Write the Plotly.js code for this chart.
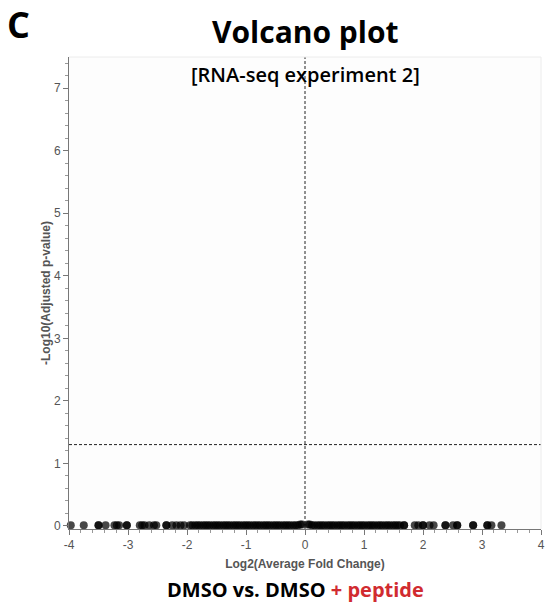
<!DOCTYPE html>
<html>
<head>
<meta charset="utf-8">
<script src="https://cdn.plot.ly/plotly-3.0.1.min.js"></script>
<style>html,body{margin:0;padding:0;background:#fff;}#chart{width:548px;height:613px;}</style>
</head>
<body>
<div id="chart"></div>
<script>
// Log2 fold change of each gene
const log2FC = [
  -3.97, -3.75, -3.50, -3.50, -3.38, -3.23, -3.19, -3.15, -3.02, -3.02,
  -2.80, -2.76, -2.72, -2.64, -2.56, -2.52, -2.35, -2.35, -2.25, -2.18, -2.11, -2.05,
  -1.95, -1.91, -1.86, -1.82, -1.78, -1.73, -1.69, -1.65, -1.61, -1.56, -1.52, -1.48,
  -1.44, -1.39, -1.35, -1.31, -1.27, -1.22, -1.18, -1.14, -1.10, -1.05, -1.01, -0.97,
  -0.93, -0.88, -0.84, -0.80, -0.76, -0.71, -0.67, -0.63, -0.59, -0.54, -0.50, -0.46,
  -0.42, -0.37, -0.33, -0.29, -0.25, -0.20, -0.16, -0.12, -0.08, -0.05,
  0.05, 0.08, 0.12, 0.16, 0.21, 0.25, 0.29, 0.33, 0.38, 0.42, 0.46, 0.50, 0.55,
  0.59, 0.63, 0.67, 0.72, 0.76, 0.80, 0.84, 0.89, 0.93, 0.97, 1.01, 1.06, 1.10,
  1.14, 1.18, 1.23, 1.27, 1.31, 1.36, 1.40, 1.44, 1.49, 1.53, 1.57, 1.61, 1.68, 1.68,
  1.86, 1.92, 2.00, 2.00, 2.11, 2.18, 2.38, 2.38, 2.51, 2.58, 2.58, 2.85, 2.85,
  3.09, 3.09, 3.16, 3.33
];
// -log10(adjusted p-value) of each gene (all close to zero)
const negLog10P = [
  0.01, 0.01, 0.01, 0.01, 0.01, 0.01, 0.01, 0.01, 0.01, 0.01,
  0.01, 0.01, 0.01, 0.01, 0.01, 0.01, 0.01, 0.01, 0.01, 0.01, 0.01, 0.01,
  0.01, 0.01, 0.01, 0.01, 0.01, 0.01, 0.01, 0.01, 0.01, 0.01, 0.01, 0.01,
  0.01, 0.01, 0.01, 0.01, 0.01, 0.01, 0.01, 0.01, 0.01, 0.01, 0.01, 0.01,
  0.01, 0.01, 0.01, 0.01, 0.01, 0.01, 0.01, 0.01, 0.01, 0.01, 0.01, 0.01,
  0.01, 0.01, 0.01, 0.01, 0.01, 0.01, 0.01, 0.01, 0.02, 0.02,
  0.02, 0.02, 0.01, 0.01, 0.01, 0.01, 0.01, 0.01, 0.01, 0.01, 0.01, 0.01, 0.01,
  0.01, 0.01, 0.01, 0.01, 0.01, 0.01, 0.01, 0.01, 0.01, 0.01, 0.01, 0.01, 0.01,
  0.01, 0.01, 0.01, 0.01, 0.01, 0.01, 0.01, 0.01, 0.01, 0.01, 0.01, 0.01, 0.01, 0.01,
  0.01, 0.01, 0.01, 0.01, 0.01, 0.01, 0.01, 0.01, 0.01, 0.01, 0.01, 0.01, 0.01,
  0.01, 0.01, 0.01, 0.01
];
const xTicks = [-4, -3, -2, -1, 0, 1, 2, 3, 4];
const yTicks = [0, 1, 2, 3, 4, 5, 6, 7];
const pThreshold = 1.3; // -log10(0.05)

const sans = 'Liberation Sans, Arial, sans-serif';
const tickFont = {family: sans, size: 12, color: '#555555'};
const titleFont = {family: sans, size: 12, color: '#555555', weight: 'bold'};
const headFont = 'Open Sans, sans-serif';

const trace = {
  type: 'scatter', mode: 'markers',
  x: log2FC, y: negLog10P,
  marker: {size: 8, color: 'rgba(0,0,0,0.72)', line: {width: 0}},
  hoverinfo: 'x+y', showlegend: false, cliponaxis: false
};

const layout = {
  width: 548, height: 613,
  margin: {l: 69, r: 7, t: 57, b: 84},
  paper_bgcolor: '#ffffff', plot_bgcolor: '#fdfdfd',
  font: {family: sans, color: '#555555'},
  showlegend: false,
  xaxis: {
    range: [-4, 4], tickvals: xTicks, ticktext: xTicks.map(String),
    ticks: 'outside', ticklen: 5, tickcolor: '#777', tickwidth: 1,
    minor: {ticks: 'outside', ticklen: 3, dtick: 0.2, tickcolor: '#999'},
    showline: true, linecolor: '#777', linewidth: 1, showgrid: false, zeroline: false,
    tickfont: tickFont,
    title: {text: 'Log2(Average Fold Change)', font: titleFont, standoff: 8}
  },
  yaxis: {
    range: [-0.05, 7.5], tickvals: yTicks, ticktext: yTicks.map(String),
    ticks: 'outside', ticklen: 5, tickcolor: '#777', tickwidth: 1,
    minor: {ticks: 'outside', ticklen: 3, dtick: 0.2, tickcolor: '#999'},
    showline: true, linecolor: '#777', linewidth: 1, showgrid: false, zeroline: false,
    tickfont: tickFont,
    title: {text: '-Log10(Adjusted p-value)', font: titleFont, standoff: 0}
  },
  shapes: [
    {type: 'line', xref: 'x', yref: 'paper', x0: 0, x1: 0, y0: 0, y1: 1,
     line: {color: '#222', width: 1, dash: '3px,2px'}},
    {type: 'line', xref: 'paper', yref: 'y', x0: 0, x1: 1, y0: pThreshold, y1: pThreshold,
     line: {color: '#222', width: 1, dash: '3px,2px'}},
    {type: 'line', xref: 'paper', yref: 'paper', x0: 0, x1: 1, y0: 1, y1: 1,
     line: {color: '#ececec', width: 1}},
    {type: 'line', xref: 'paper', yref: 'paper', x0: 1, x1: 1, y0: 0, y1: 1,
     line: {color: '#ececec', width: 1}}
  ],
  annotations: [
    {text: '<b>C</b>', xref: 'paper', yref: 'paper', x: -0.135, y: 1.068,
     xanchor: 'left', yanchor: 'middle', showarrow: false,
     font: {family: headFont, size: 36, color: '#000'}},
    {text: '<b>Volcano plot</b>', xref: 'x', yref: 'paper', x: 0, y: 1.053,
     xanchor: 'center', yanchor: 'middle', showarrow: false,
     font: {family: headFont, size: 30, color: '#000'}},
    {text: '[RNA-seq experiment 2]', xref: 'x', yref: 'paper', x: 0, y: 0.962,
     xanchor: 'center', yanchor: 'middle', showarrow: false,
     font: {family: headFont, size: 20, color: '#000', weight: 600}},
    {text: '<b>DMSO vs. DMSO <span style="color:#d12b30">+ peptide</span></b>',
     xref: 'paper', yref: 'paper', x: 0.48, y: -0.128,
     xanchor: 'center', yanchor: 'middle', showarrow: false,
     font: {family: headFont, size: 20, color: '#000'}}
  ]
};

Plotly.newPlot('chart', [trace], layout, {displayModeBar: false, staticPlot: true});
</script>
</body>
</html>
